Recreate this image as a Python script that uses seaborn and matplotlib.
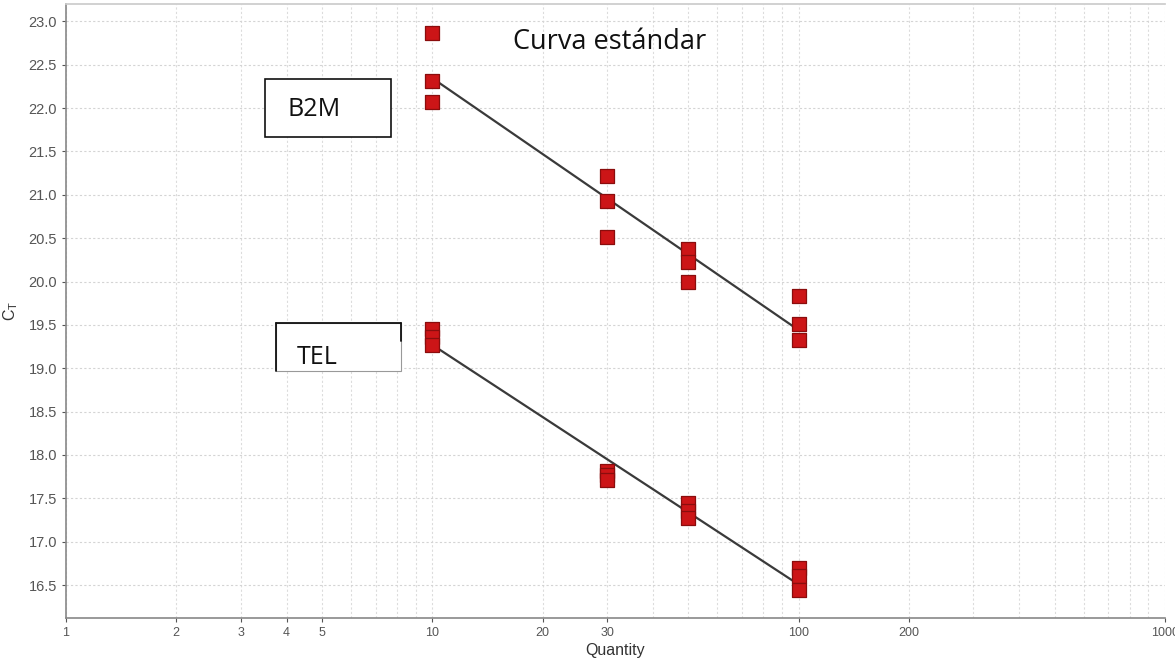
"""Standard curve (Ct vs quantity) for B2M and TEL."""

import matplotlib

matplotlib.use("Agg")
import matplotlib.pyplot as plt
import numpy as np
import pandas as pd
import seaborn as sns
from matplotlib.lines import Line2D
from matplotlib.ticker import FixedLocator, LogLocator, NullFormatter

quantity = [10, 10, 10, 30, 30, 30, 50, 50, 50, 100, 100, 100]
ct_b2m = [22.87, 22.31, 22.07, 21.22, 20.93, 20.51, 20.38, 20.23, 19.99, 19.83, 19.51, 19.32]
ct_tel = [19.45, 19.36, 19.27, 17.82, 17.77, 17.71, 17.45, 17.35, 17.27, 16.70, 16.60, 16.44]

x_ticks = [1, 2, 3, 4, 5, 10, 20, 30, 100, 200, 1000]
x_tick_labels = ["1", "2", "3", "4", "5", "10", "20", "30", "100", "200", "1000"]
y_ticks = [16.5, 17.0, 17.5, 18.0, 18.5, 19.0, 19.5, 20.0, 20.5, 21.0, 21.5, 22.0, 22.5, 23.0]

data = pd.concat(
    [
        pd.DataFrame({"quantity": quantity, "ct": ct_b2m, "gene": "B2M"}),
        pd.DataFrame({"quantity": quantity, "ct": ct_tel, "gene": "TEL"}),
    ],
    ignore_index=True,
)

sns.set_theme(style="white")
plt.rcParams["font.family"] = ["Liberation Sans", "DejaVu Sans"]

fig = plt.figure(figsize=(11.75, 6.7), dpi=100)
ax = fig.add_axes([0.0562, 0.0776, 0.9353, 0.9164])

ax.set_xscale("log")
ax.set_xlim(1, 1000)
ax.set_ylim(16.12, 23.2)

# regression lines, fitted on log10(quantity)
for gene, frame in data.groupby("gene"):
    sns.regplot(
        data=frame,
        x="quantity",
        y="ct",
        logx=True,
        ci=None,
        scatter=False,
        color="#3a3a3a",
        line_kws={"linewidth": 1.6, "zorder": 3},
        ax=ax,
    )

sns.scatterplot(
    data=data,
    x="quantity",
    y="ct",
    marker="s",
    s=95,
    color="#cc1517",
    edgecolor="#8a0d0d",
    linewidth=0.9,
    zorder=4,
    legend=False,
    ax=ax,
)

ax.xaxis.set_major_locator(FixedLocator(x_ticks))
ax.set_xticklabels(x_tick_labels)
ax.xaxis.set_minor_locator(LogLocator(base=10, subs=np.arange(2, 10)))
ax.xaxis.set_minor_formatter(NullFormatter())
ax.set_yticks(y_ticks)
ax.set_yticklabels([f"{v:.1f}" for v in y_ticks])

ax.grid(which="both", axis="x", color="#dcdcdc", linestyle=(0, (2, 2)), linewidth=0.8)
ax.grid(which="major", axis="y", color="#d4d4d4", linestyle=(0, (2, 2)), linewidth=0.8)
ax.set_axisbelow(True)

for side in ["left", "bottom"]:
    ax.spines[side].set_color("#888888")
    ax.spines[side].set_linewidth(1.2)
ax.spines["top"].set_color("#cccccc")
ax.spines["right"].set_visible(False)

ax.tick_params(axis="both", which="major", colors="#555555",
               length=3, width=0.8, direction="out", bottom=True, left=True)
ax.tick_params(axis="x", which="major", labelsize=9)
ax.tick_params(axis="y", which="major", labelsize=10.5)
ax.tick_params(axis="x", which="minor", length=0)
ax.set_xlabel("Quantity", fontsize=11.5, color="#333333", labelpad=3)
ax.set_ylabel("C$_\\mathregular{T}$", fontsize=11.5, color="#333333", labelpad=6)

# title and gene label boxes (figure pixel coordinates)
W, H = 1175, 670


def fx(px):
    return px / W


def fy(py):
    return 1 - py / H


fig.text(fx(513), fy(42), "Curva estándar", fontsize=19.5, color="#111111",
         family=["Open Sans", "DejaVu Sans"], va="center", ha="left")

fig.patches.append(plt.Rectangle((fx(265), fy(137)), fx(391) - fx(265), fy(79) - fy(137),
                                 transform=fig.transFigure, facecolor="white",
                                 edgecolor="#111111", linewidth=1.2, zorder=5))
fig.text(fx(287), fy(109), "B2M", fontsize=18, color="#111111",
         family=["Open Sans", "DejaVu Sans"], va="center", ha="left", zorder=6)

fig.patches.append(plt.Rectangle((fx(276), fy(371)), fx(401) - fx(276), fy(323) - fy(371),
                                 transform=fig.transFigure, facecolor="white",
                                 edgecolor="#999999", linewidth=0.8, zorder=5))
for xs, ys in [([276, 401], [323, 323]), ([276, 276], [323, 371]), ([401, 401], [323, 341])]:
    fig.lines.append(Line2D([fx(v) for v in xs], [fy(v) for v in ys],
                            transform=fig.transFigure, color="#111111",
                            linewidth=1.3, zorder=6))
fig.text(fx(297), fy(357), "TEL", fontsize=18, color="#111111",
         family=["Open Sans", "DejaVu Sans"], va="center", ha="left", zorder=6)

fig.savefig("out.png", dpi=100)
